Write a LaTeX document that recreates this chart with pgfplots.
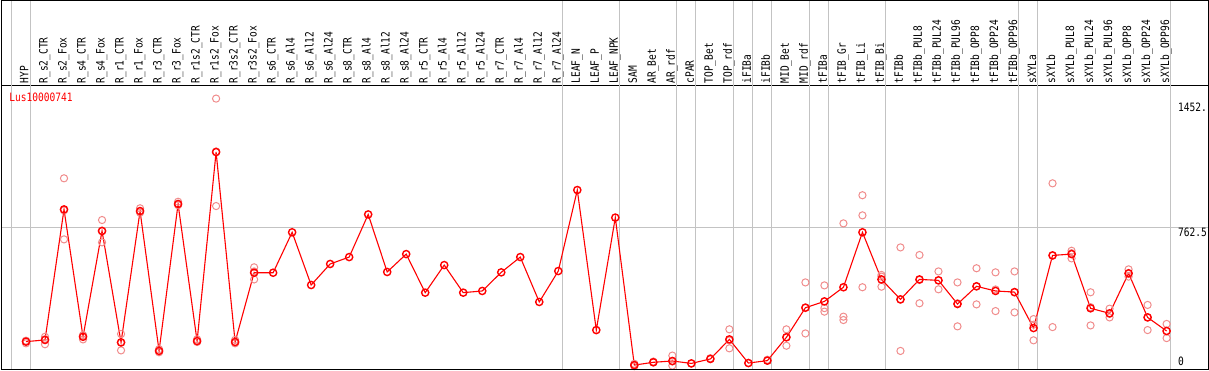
\documentclass[border=0pt]{standalone}
\usepackage{pgfplots}
\pgfplotsset{compat=1.18}
\usepackage{pgfplotstable}
\usepackage{fontspec}
\newfontfamily\labfont[FakeStretch=0.83]{DejaVu Sans Mono}
\newcommand{\lab}{\fontsize{11.5bp}{12bp}\labfont}
\definecolor{rep}{RGB}{240,140,140}
\definecolor{sep}{RGB}{195,195,195}

\pgfplotstableread{
x y
0 147
1 156
2 857
3 173
4 741
5 143
6 848
7 97
8 886
9 150
10 1165
11 145
12 517
13 517
14 734
15 451
16 564
17 601
18 830
19 521
20 617
21 410
22 558
23 410
24 419
25 519
26 601
27 360
28 526
29 961
30 209
31 813
32 21
33 36
34 43
35 30
36 54
37 159
38 32
39 45
40 170
41 329
42 363
43 439
44 734
45 481
46 374
47 481
48 476
49 349
50 444
51 419
52 413
53 220
54 610
55 617
56 326
57 299
58 514
59 277
60 204
}\means

\pgfplotstableread{
x y
0 150
0 138
0 152
1 173
1 133
1 160
2 1024
2 696
2 852
3 182
3 159
3 178
4 800
4 680
4 743
5 188
5 100
5 141
6 863
6 840
7 106
7 90
8 898
8 880
9 159
9 145
10 1452
10 875
10 1168
11 156
11 138
12 546
12 481
12 524
32 21
32 15
32 28
33 36
33 40
34 72
34 18
34 40
35 30
36 54
36 58
37 213
37 111
37 153
38 32
39 45
39 50
40 213
40 125
40 172
41 465
41 191
41 331
42 449
42 327
42 308
43 782
43 281
43 263
44 933
44 825
44 439
45 505
45 442
45 496
46 653
46 97
46 372
47 612
47 353
47 478
48 524
48 428
48 476
49 465
49 229
49 353
50 541
50 347
50 444
51 519
51 311
51 427
52 524
52 304
52 411
53 268
53 154
53 238
54 997
54 225
54 608
55 635
55 594
55 622
56 412
56 234
56 332
57 324
57 277
57 296
58 535
58 496
58 511
59 344
59 209
59 278
60 242
60 166
60 204
}\reps

\begin{document}
\begin{tikzpicture}[x=1bp,y=1bp]
\useasboundingbox (0,0) rectangle (1209,370);
\begin{axis}[
  at={(1bp,1bp)}, anchor=south west,
  scale only axis, width=1207bp, height=284bp,
  xmin=-1.315, xmax=62.178, ymin=0, ymax=1525,
  clip=false,
  axis line style={line width=0.9bp, black},
  xtick={0,...,60},
  xticklabels={HYP,R\_s2\_CTR,R\_s2\_Fox,R\_s4\_CTR,R\_s4\_Fox,R\_r1\_CTR,R\_r1\_Fox,R\_r3\_CTR,R\_r3\_Fox,R\_r1s2\_CTR,R\_r1s2\_Fox,R\_r3s2\_CTR,R\_r3s2\_Fox,R\_s6\_CTR,R\_s6\_Al4,R\_s6\_Al12,R\_s6\_Al24,R\_s8\_CTR,R\_s8\_Al4,R\_s8\_Al12,R\_s8\_Al24,R\_r5\_CTR,R\_r5\_Al4,R\_r5\_Al12,R\_r5\_Al24,R\_r7\_CTR,R\_r7\_Al4,R\_r7\_Al12,R\_r7\_Al24,LEAF\_N,LEAF\_P,LEAF\_NPK,SAM,AR\_Bet,AR\_rdf,cPAR,TOP\_Bet,TOP\_rdf,iFIBa,iFIBb,MID\_Bet,MID\_rdf,tFIBa,tFIB\_Gr,tFIB\_Li,tFIB\_Bi,tFIBb,tFIBb\_PUL8,tFIBb\_PUL24,tFIBb\_PUL96,tFIBb\_OPP8,tFIBb\_OPP24,tFIBb\_OPP96,sXYLa,sXYLb,sXYLb\_PUL8,sXYLb\_PUL24,sXYLb\_PUL96,sXYLb\_OPP8,sXYLb\_OPP24,sXYLb\_OPP96},
  xticklabel pos=upper,
  xticklabel style={rotate=90, anchor=west, font=\lab, inner sep=0pt, xshift=1.5bp, text height=7bp, text depth=2bp},
  major tick length=0pt,
  ytick={762.5}, yticklabels={},
  ymajorgrids, major grid style={color=sep, line width=0.9bp},
]
\foreach \s in {-0.78,0.22,28.22,31.22,34.22,35.22,37.22,38.22,39.22,41.22,42.22,45.22,52.22,53.22,60.22}{
  \edef\tmp{\noexpand\draw[sep, line width=0.9bp] (axis cs:\s,0) -- (axis cs:\s,1979);}
  \tmp
}
\addplot[only marks, mark=o, mark size=3.6bp, mark options={rep, line width=1bp}] table[x=x,y=y] {\reps};
\addplot[red, line width=1.1bp, mark=o, mark size=3.6bp, mark options={red, line width=1.4bp}] table[x=x,y=y] {\means};
\node[anchor=west, text=red, font=\lab, inner sep=0pt] at (axis cs:-0.88,1460) {Lus10000741};
\node[anchor=west, font=\lab, inner sep=0pt] at (axis cs:60.6,1407) {1452.};
\node[anchor=west, font=\lab, inner sep=0pt] at (axis cs:60.6,735) {762.5};
\node[anchor=west, font=\lab, inner sep=0pt] at (axis cs:60.6,40) {0};
\end{axis}
\draw[black, line width=0.9bp] (1,1) rectangle (1208,369.5);
\end{tikzpicture}
\end{document}
